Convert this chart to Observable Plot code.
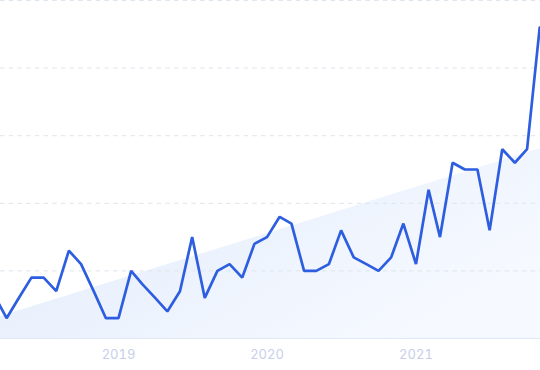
<!DOCTYPE html>
<html>
<head>
<meta charset="utf-8">
<script src="https://cdn.jsdelivr.net/npm/d3@7"></script>
<script src="https://cdn.jsdelivr.net/npm/@observablehq/plot@0.6"></script>
<style>
  html, body { margin: 0; padding: 0; background: #fff; }
  #chart svg { display: block; }
</style>
</head>
<body>
<div id="chart"></div>
<script>
// Monthly values, Mar 2018 – Nov 2021
const months = [
  "2018-03","2018-04","2018-05","2018-06","2018-07","2018-08","2018-09","2018-10","2018-11","2018-12",
  "2019-01","2019-02","2019-03","2019-04","2019-05","2019-06","2019-07","2019-08","2019-09","2019-10","2019-11","2019-12",
  "2020-01","2020-02","2020-03","2020-04","2020-05","2020-06","2020-07","2020-08","2020-09","2020-10","2020-11","2020-12",
  "2021-01","2021-02","2021-03","2021-04","2021-05","2021-06","2021-07","2021-08","2021-09","2021-10","2021-11"
];
const values = [
  13, 6, 12, 18, 18, 14, 26, 22, 14, 6,
  6, 20, 16, 12, 8, 14, 30, 12, 20, 22, 18, 28,
  30, 36, 34, 20, 20, 22, 32, 24, 22, 20, 24, 34,
  22, 44, 30, 52, 50, 50, 32, 56, 52, 56, 92
];
// Light trend wedge behind the line
const trendDates = ["2018-03-17", "2021-11-03"];
const trendValues = [6.5, 56.2];
// Axis
const yearTicks = [2019, 2020, 2021];
const yTicks = [0, 20, 40, 60, 80, 100];

const parseMonth = d3.utcParse("%Y-%m");
const parseDay = d3.utcParse("%Y-%m-%d");
const series = months.map((m, i) => ({date: parseMonth(m), value: values[i]}));
const trend = trendDates.map((d, i) => ({date: parseDay(d), value: trendValues[i]}));
const xTicks = yearTicks.map(y => new Date(Date.UTC(y, 0, 1)));

const chart = Plot.plot({
  width: 540,
  height: 370,
  marginTop: 0,
  marginRight: 0,
  marginLeft: 0,
  marginBottom: 32,
  style: {fontFamily: "Inter, 'Noto Sans', sans-serif", background: "#fff"},
  x: {type: "utc", domain: [trend[0].date, trend[1].date]},
  y: {domain: [0, 100], axis: null},
  marks: [
    Plot.areaY(trend, {x: "date", y: "value", fill: "url(#trendFill)"}),
    Plot.ruleY(yTicks.filter(d => d > 0), {stroke: "#dfe5ec", strokeWidth: 1, strokeDasharray: "4.5,4.2"}),
    Plot.ruleY([0], {stroke: "#dfe8f7", strokeWidth: 1.2}),
    Plot.axisX({ticks: xTicks, tickFormat: d3.utcFormat("%Y"), tickSize: 0, tickPadding: 11, fontSize: 13, color: "#c7cfea", label: null}),
    Plot.lineY(series, {x: "date", y: "value", stroke: "#2e5ee0", strokeWidth: 2.7, strokeLinejoin: "miter", clip: true})
  ]
});

const defs = d3.select(chart).insert("defs", ":first-child");
const grad = defs.append("linearGradient")
  .attr("id", "trendFill")
  .attr("x1", "0").attr("y1", "0").attr("x2", "1").attr("y2", "0.6");
grad.append("stop").attr("offset", "0").attr("stop-color", "#e1ebfb");
grad.append("stop").attr("offset", "1").attr("stop-color", "#f6f9ff");

document.getElementById("chart").appendChild(chart);
</script>
</body>
</html>
